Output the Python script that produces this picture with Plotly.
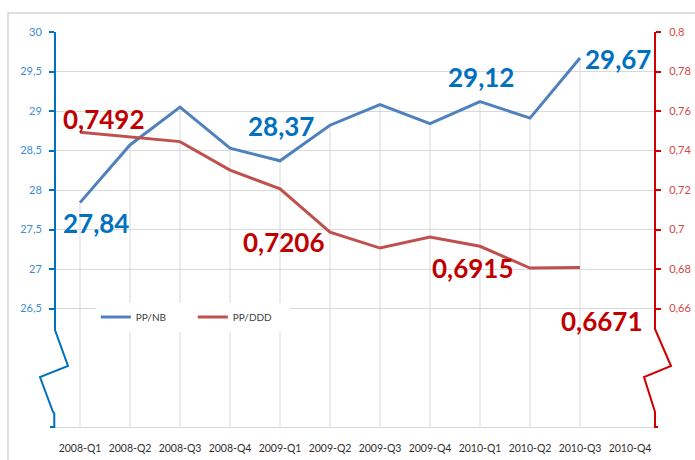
import plotly.graph_objects as go

# ---------------- data ----------------
quarters = ["2008-Q1", "2008-Q2", "2008-Q3", "2008-Q4", "2009-Q1", "2009-Q2",
            "2009-Q3", "2009-Q4", "2010-Q1", "2010-Q2", "2010-Q3", "2010-Q4"]
pp_nb = [27.84, 28.57, 29.05, 28.53, 28.37, 28.82, 29.08, 28.84, 29.12, 28.91, 29.67]
pp_ddd = [0.7492, 0.7470, 0.7445, 0.7301, 0.7206, 0.6987, 0.6906, 0.6962, 0.6915, 0.6805, 0.6807]
left_ticks = [26.5, 27, 27.5, 28, 28.5, 29, 29.5, 30]
right_ticks = [0.66, 0.68, 0.70, 0.72, 0.74, 0.76, 0.78, 0.80]
nb_label_idx = [0, 4, 8, 10]
nb_label_txt = ["27,84", "28,37", "29,12", "29,67"]
ddd_label_idx = [0, 4, 8, 10]
ddd_label_txt = ["0,7492", "0,7206", "0,6915", "0,6671"]

# ---------------- style ----------------
NB_LINE = "#4f81bd"
DDD_LINE = "#c0504d"
NB_TXT = "#0070c0"
DDD_TXT = "#c00000"
NB_AXIS = "#0070c0"
DDD_AXIS = "#d00000"
GRID = "#d9d9d9"
Y_MIN, Y_MAX = 25, 30
Y2_MIN, Y2_MAX = 0.6, 0.8
nb_offsets = [(16, -20), (1, 35), (1, 25), (38, -1)]
ddd_offsets = [(23, 13), (3, -53), (-8, -22), (21, -53)]
LABEL_FONT = dict(family="Lato", size=26, weight="bold")

fig = go.Figure()

# drop lines from the PP/NB points to the category axis
drop_x, drop_y = [], []
for q, v in zip(quarters, pp_nb):
    drop_x += [q, q, None]
    drop_y += [v, Y_MIN, None]
fig.add_trace(go.Scatter(x=drop_x, y=drop_y, mode="lines",
                         line=dict(color=GRID, width=1),
                         showlegend=False, hoverinfo="skip"))

fig.add_trace(go.Scatter(x=quarters[:len(pp_nb)], y=pp_nb, mode="lines", name="PP/NB",
                         line=dict(color=NB_LINE, width=3)))
fig.add_trace(go.Scatter(x=quarters[:len(pp_ddd)], y=pp_ddd, mode="lines", name="PP/DDD",
                         line=dict(color=DDD_LINE, width=3), yaxis="y2"))

annotations = []
for i, t, (ox, oy) in zip(nb_label_idx, nb_label_txt, nb_offsets):
    annotations.append(dict(x=quarters[i], y=pp_nb[i], xref="x", yref="y", text=t,
                            showarrow=False, xanchor="center", yanchor="middle",
                            xshift=ox, yshift=oy, font=dict(LABEL_FONT, color=NB_TXT)))
for i, t, (ox, oy) in zip(ddd_label_idx, ddd_label_txt, ddd_offsets):
    annotations.append(dict(x=quarters[i], y=pp_ddd[i], xref="x", yref="y2", text=t,
                            showarrow=False, xanchor="center", yanchor="middle",
                            xshift=ox, yshift=oy, font=dict(LABEL_FONT, color=DDD_TXT)))

# axis lines with break marks (paper coordinates of the plot area)
left_axis = "M 0,1 L 0,0.2456 L 0.0217,0.1544 L -0.025,0.1266 L -0.0033,0.038 L -0.0012,0.035 L -0.0012,0 L -0.0083,0"
right_axis = "M 1,1 L 1,0.2481 L 1.0267,0.1544 L 0.9817,0.1266 L 1,0.038 L 1,0 L 1.005,0"
shapes = [
    dict(type="rect", xref="paper", yref="paper", x0=-0.0783, x1=1.08, y0=-0.12, y1=1.048,
         line=dict(color="#d6d6d6", width=1.5), layer="below"),
    dict(type="path", xref="paper", yref="paper", path=left_axis,
         line=dict(color=NB_AXIS, width=2)),
    dict(type="path", xref="paper", yref="paper", path=right_axis,
         line=dict(color=DDD_AXIS, width=2)),
]

fig.update_layout(
    width=695, height=460,
    margin=dict(l=55, r=40, t=32, b=33, autoexpand=False),
    paper_bgcolor="white", plot_bgcolor="white",
    separators=",.",
    font=dict(family="Lato", color="#404040"),
    xaxis=dict(type="category", categoryorder="array", categoryarray=quarters,
               range=[-0.5, len(quarters) - 0.5], showgrid=False, zeroline=False,
               showline=True, linecolor=GRID, linewidth=1, ticks="", tickangle=0,
               tickfont=dict(family="Lato", size=10.5, color="#303030"),
               ticklabelstandoff=11, automargin=False),
    yaxis=dict(range=[Y_MIN, Y_MAX], tickvals=left_ticks, showgrid=True, gridcolor=GRID,
               gridwidth=1, zeroline=False, showline=False, ticks="outside", ticklen=5,
               tickcolor=NB_AXIS, tickwidth=1.5,
               tickfont=dict(family="Lato", size=11, color="#3d8bd4"),
               ticklabelstandoff=5, automargin=False),
    yaxis2=dict(range=[Y2_MIN, Y2_MAX], tickvals=right_ticks, overlaying="y", side="right",
                showgrid=False, zeroline=False, showline=False, ticks="outside", ticklen=5,
                tickcolor=DDD_AXIS, tickwidth=1.5,
                tickfont=dict(family="Lato", size=11, color="#d64545"),
                ticklabelstandoff=6, automargin=False),
    legend=dict(orientation="h", x=0.068, y=0.315, xanchor="left", yanchor="top",
                bgcolor="white", font=dict(family="Lato", size=10, color="#404040"),
                itemwidth=30, entrywidth=52),
    annotations=annotations,
    shapes=shapes,
    showlegend=True,
)

# remove the default page margin so the 695x460 figure fills the window exactly
fig.write_html("out.html",
               config={"displayModeBar": False},
               post_script="document.body.style.margin='0';document.body.style.overflow='hidden';")
